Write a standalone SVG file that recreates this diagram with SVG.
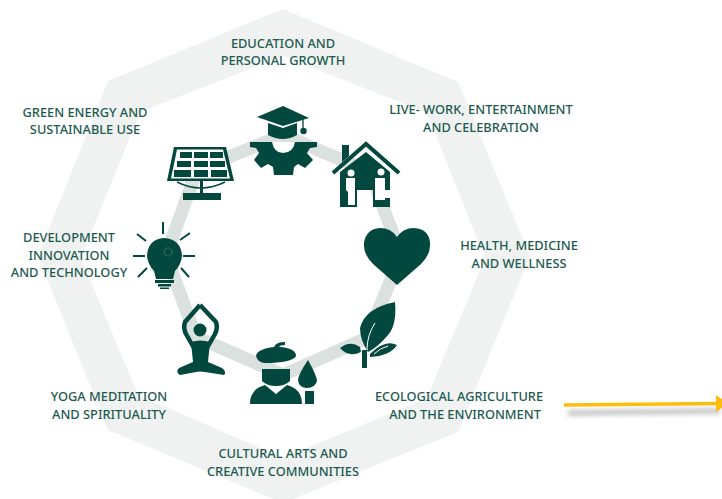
<svg xmlns="http://www.w3.org/2000/svg" width="722" height="499" viewBox="0 0 722 499">
<defs>
<style>
.l{font-family:"Noto Sans","Open Sans",sans-serif;font-size:12.8px;fill:#1c5a50;text-anchor:middle;font-weight:500}
.i{fill:#03483f}
.w{fill:#fff}
.s{fill:none;stroke:#03483f}
</style>
<filter id="sh" x="-5%" y="-300%" width="110%" height="700%"><feGaussianBlur stdDeviation="2.500"/></filter>
</defs>
<rect width="722" height="499" fill="#fff"/>
<path id="outer" fill-rule="evenodd" fill="#f0f2f1" d="M283 9L458 82L530 256L458 432L283 503L108 430L38 256L108 81ZM283 56L427 113L485 258L427 398L283 458L138 395L81 258L140 112Z"/>
<g id="connectors">
<polygon points="283,135 370,172 401,255 367,338 283,375 196,337 166,255 197,170" fill="none" stroke="#dbe1df" stroke-width="13"/>
<path d="M568 413L720 411" stroke="#8a8a8a" stroke-width="5" opacity=".55" filter="url(#sh)"/>
<path d="M564 405L718 403.500" stroke="#fdbd0d" stroke-width="3.500"/>
<path d="M716 395L728 403.500L716 412Z" fill="#fdbd0d"/>
</g>
<g id="n-education">
<path class="i" d="M283 106L309 118L283 126L257 117Z"/>
<path class="i" d="M268 123L283 128L297 123V135Q283 143 268 135Z"/>
<path class="s" stroke-width="1.300" d="M303 119V130"/><circle class="i" cx="303.500" cy="131" r="3.200"/>
<path class="i" d="M250 142H317V147L310 148L307 153L313 160L305 168L298 164L294 167L293 175H274L273 167L268 164L261 168L254 160L259 153L256 148L250 147Z"/>
<path class="w" d="M272 142H295Q293 153 283 153Q274 153 272 142Z"/>
</g>
<g id="n-live">
<path class="i" d="M342 145H349V156L342 162Z"/>
<path class="s" stroke-width="4" d="M333 173L366 144L399 173"/>
<path class="i" d="M340 172L366 152L390 172V207H373V190H357V207H340Z"/>
<circle class="w" cx="351" cy="173" r="3.500"/><circle class="w" cx="381" cy="172" r="3.500"/>
<path class="w" d="M346 178H355V205H348V192L346 190Z"/>
<path class="w" d="M375 178H385V190H391V198H385V200H375Z"/>
</g>
<g id="n-health">
<path class="i" d="M397 285L373 264Q363 254 364 243Q366 229 380 228Q391 228 397 237Q403 228 414 228Q429 229 430 243Q431 254 421 264Z"/>
</g>
<g id="n-agri">
<path class="i" d="M395 302Q397 325 388 335Q378 347 368 352Q360 340 360 328Q365 308 395 302Z"/>
<path class="i" d="M340 348Q350 340 360 347L361 352Q349 358 340 348Z"/>
<path class="i" d="M370 354Q385 339 397 345Q390 356 370 357Z"/>
<path class="i" d="M362 350H367V368H362Z"/>
<path d="M375 323Q367 335 367 350M374 354Q380 348 388 346" fill="none" stroke="#fff" stroke-width="1"/>
</g>
<g id="n-arts">
<path class="i" d="M256 356Q257 349 274 347Q276 342 285 342V345Q280 345 279 347Q296 348 296 356Q292 363 265 363Q258 363 256 356Z"/>
<path class="i" d="M262 369H290V381Q285 386 276 386Q267 386 262 381Z"/>
<path class="i" d="M250 404Q250 389 265 385L276 394L287 385Q302 389 302 404Z"/>
<path class="w" d="M270 386H282L276 394Z"/>
<path class="i" d="M308 360Q317 376 317 381Q315 388 307 388Q299 388 298 380Q298 375 308 360Z"/>
<path class="i" d="M305 391H314V404H305Z"/>
</g>
<g id="n-yoga">
<path class="s" stroke-width="4.500" stroke-linejoin="round" d="M200 305L185 322Q183 328 186 334L194 348M200 305L216 322Q218 328 215 334L207 348"/>
<circle class="i" cx="200" cy="330" r="6.500"/>
<path class="i" d="M191 342Q200 339 210 342L208 362L222 368Q227 372 224 375L205 372Q200 371 196 372L180 375Q175 372 179 368L193 362Z"/>
</g>
<g id="n-dev">
<path class="i" d="M164 238Q181 239 182 256Q181 265 175 271L173 279H156L154 271Q148 265 147 256Q148 239 164 238Z"/>
<path class="i" d="M155 280H174V283H155ZM158 284H171V286.500H158ZM160 287.500H169V289H160Z"/>
<circle cx="168" cy="252" r="4" fill="none" stroke="#6f918a" stroke-width=".8" stroke-dasharray="1.500 1"/>
<path class="s" stroke-width="2" d="M163 222V234M133 256H145M183 256H195M137 234L146 241M190 233L180 240M138 277L147 268M189 277L181 268"/>
</g>
<g id="n-solar">
<path class="i" d="M174 147H226L234 181H167Z"/>
<path class="w" d="M177 149.500H223L230 178.500H171Z"/>
<path class="i" d="M180 152H192V158H180ZM194 152H208V158H194ZM210 152H223V158H210ZM177 161H191V167H177ZM194 161H208V167H194ZM210 161H225V167H210ZM174 170H191V177H174ZM194 170H208V177H194ZM211 170H227V177H211Z"/>
<path class="s" stroke-width="1.500" d="M177 182Q201 194 225 182"/>
<path class="i" d="M200 180H203V193H200ZM183 193H221V200H183Z"/>
</g>
<text id="t-education" class="l"><tspan x="283" y="48">EDUCATION AND</tspan><tspan x="283" y="65">PERSONAL GROWTH</tspan></text>
<text id="t-live" class="l"><tspan x="481" y="114">LIVE- WORK, ENTERTAINMENT</tspan><tspan x="481" y="132">AND CELEBRATION</tspan></text>
<text id="t-health" class="l"><tspan x="519" y="250">HEALTH, MEDICINE</tspan><tspan x="519" y="268">AND WELLNESS</tspan></text>
<text id="t-agri" class="l"><tspan x="459" y="401">ECOLOGICAL AGRICULTURE</tspan><tspan x="465" y="419">AND THE ENVIRONMENT</tspan></text>
<text id="t-arts" class="l"><tspan x="283" y="458">CULTURAL ARTS AND</tspan><tspan x="283" y="476">CREATIVE COMMUNITIES</tspan></text>
<text id="t-yoga" class="l"><tspan x="109" y="401">YOGA MEDITATION</tspan><tspan x="109" y="419">AND SPIRITUALITY</tspan></text>
<text id="t-dev" class="l"><tspan x="69" y="242">DEVELOPMENT</tspan><tspan x="69" y="260">INNOVATION</tspan><tspan x="69" y="277">AND TECHNOLOGY</tspan></text>
<text id="t-green" class="l"><tspan x="85" y="117">GREEN ENERGY AND</tspan><tspan x="85" y="134">SUSTAINABLE USE</tspan></text>
</svg>
